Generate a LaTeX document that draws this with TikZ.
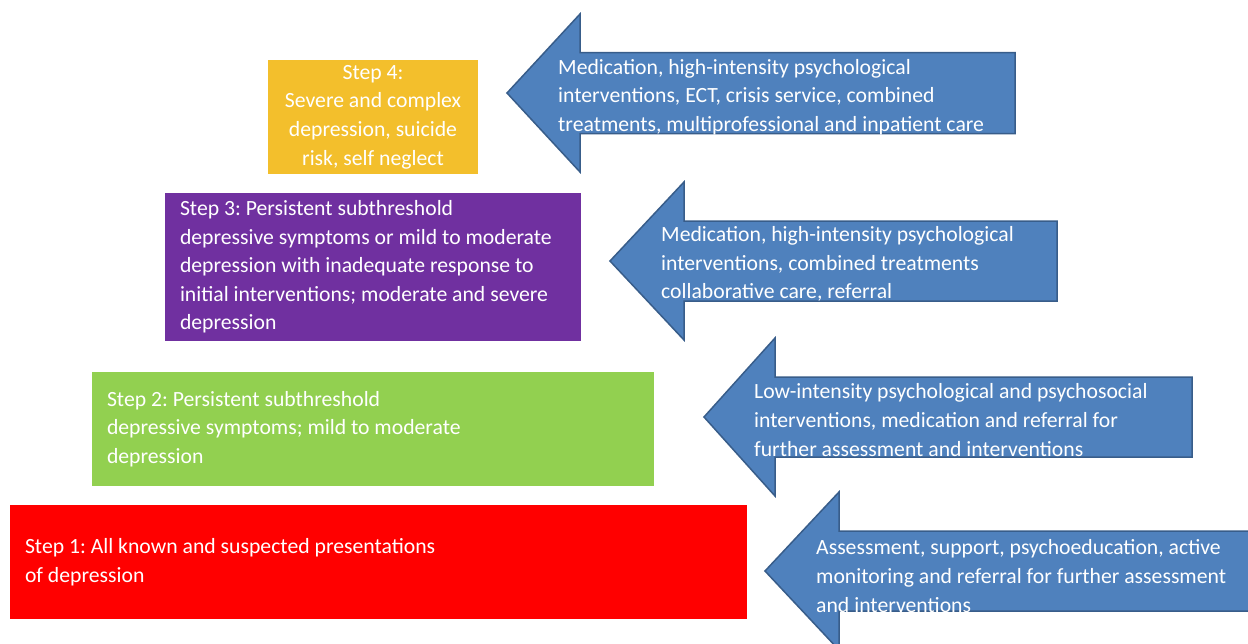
\documentclass[tikz,border=0pt]{standalone}
\usepackage{fontspec}
\setmainfont{Carlito}
\usetikzlibrary{positioning}
\tikzset{>=latex}
\definecolor{careblue}{HTML}{4F81BD}
\definecolor{careedge}{HTML}{385D8A}
\definecolor{stepfour}{HTML}{F3BF2C}
\definecolor{stepthree}{HTML}{7030A0}
\definecolor{steptwo}{HTML}{92D050}
\definecolor{stepone}{HTML}{FF0000}
\tikzset{
  stepbox/.style={rectangle, inner xsep=15pt, inner ysep=0pt, text=white,
    font=\fontsize{21.7}{28.6}\selectfont\frenchspacing, align=flush left},
  caretext/.style={anchor=west, inner sep=0pt, text=white, align=left,
    font=\fontsize{21.7}{28.6}\selectfont\frenchspacing},
}
% tip x, tip y, head x, head half height, shaft half height, end x
\def\carearrow#1#2#3#4#5#6{%
  \filldraw[fill=careblue, draw=careedge, line width=1.5pt, line join=miter]
    (#1,#2) -- (#3,#2-#4) -- (#3,#2-#5) -- (#6,#2-#5) -- (#6,#2+#5)
    -- (#3,#2+#5) -- (#3,#2+#4) -- cycle;}

\begin{document}
\begin{tikzpicture}[x=1pt, y=-1pt]
  \useasboundingbox[fill=white] (0,0) rectangle (1248,643);

  % the four steps
  \node[stepbox, fill=stepfour, align=flush center, inner xsep=5pt,
    text width=200pt, minimum height=114pt] (s4) at (373,117)
    {Step 4:\\Severe and complex\\depression, suicide\\risk, self neglect};
  \node[stepbox, fill=stepthree, text width=386pt, minimum height=148pt]
    (s3) at (373,267)
    {Step 3: Persistent subthreshold\\depressive symptoms or mild to moderate\\
     depression with inadequate response to\\initial interventions; moderate and severe\\
     depression};
  \node[stepbox, fill=steptwo, text width=532pt, minimum height=114pt]
    (s2) at (373,429)
    {Step 2: Persistent subthreshold\\depressive symptoms; mild to moderate\\depression};
  \node[stepbox, fill=stepone, text width=707pt, minimum height=114pt]
    (s1) at (378.5,562)
    {Step 1: All known and suspected presentations\\of depression};

  % the arrows with the care given at each step
  \carearrow{507}{93}{580}{79}{40.5}{1015}
  \carearrow{610}{261}{684}{79}{40}{1057}
  \carearrow{704}{417}{775}{79}{40}{1192}
  \carearrow{765}{571}{839}{79}{40}{1262}

  \node[caretext] (c4) at (558,97)
    {Medication, high-intensity psychological\\interventions, ECT, crisis service, combined\\
     treatments, multiprofessional and inpatient care};
  \node[caretext] (c3) at (661,264)
    {Medication, high-intensity psychological\\interventions, combined treatments\\
     collaborative care, referral};
  \node[caretext] (c2) at (754,420)
    {Low-intensity psychological and psychosocial\\interventions, medication and referral for\\
     further assessment and interventions};
  \node[caretext] (c1) at (816,576)
    {Assessment, support, psychoeducation, active\\monitoring and referral for further assessment\\
     and interventions};
\end{tikzpicture}
\end{document}
